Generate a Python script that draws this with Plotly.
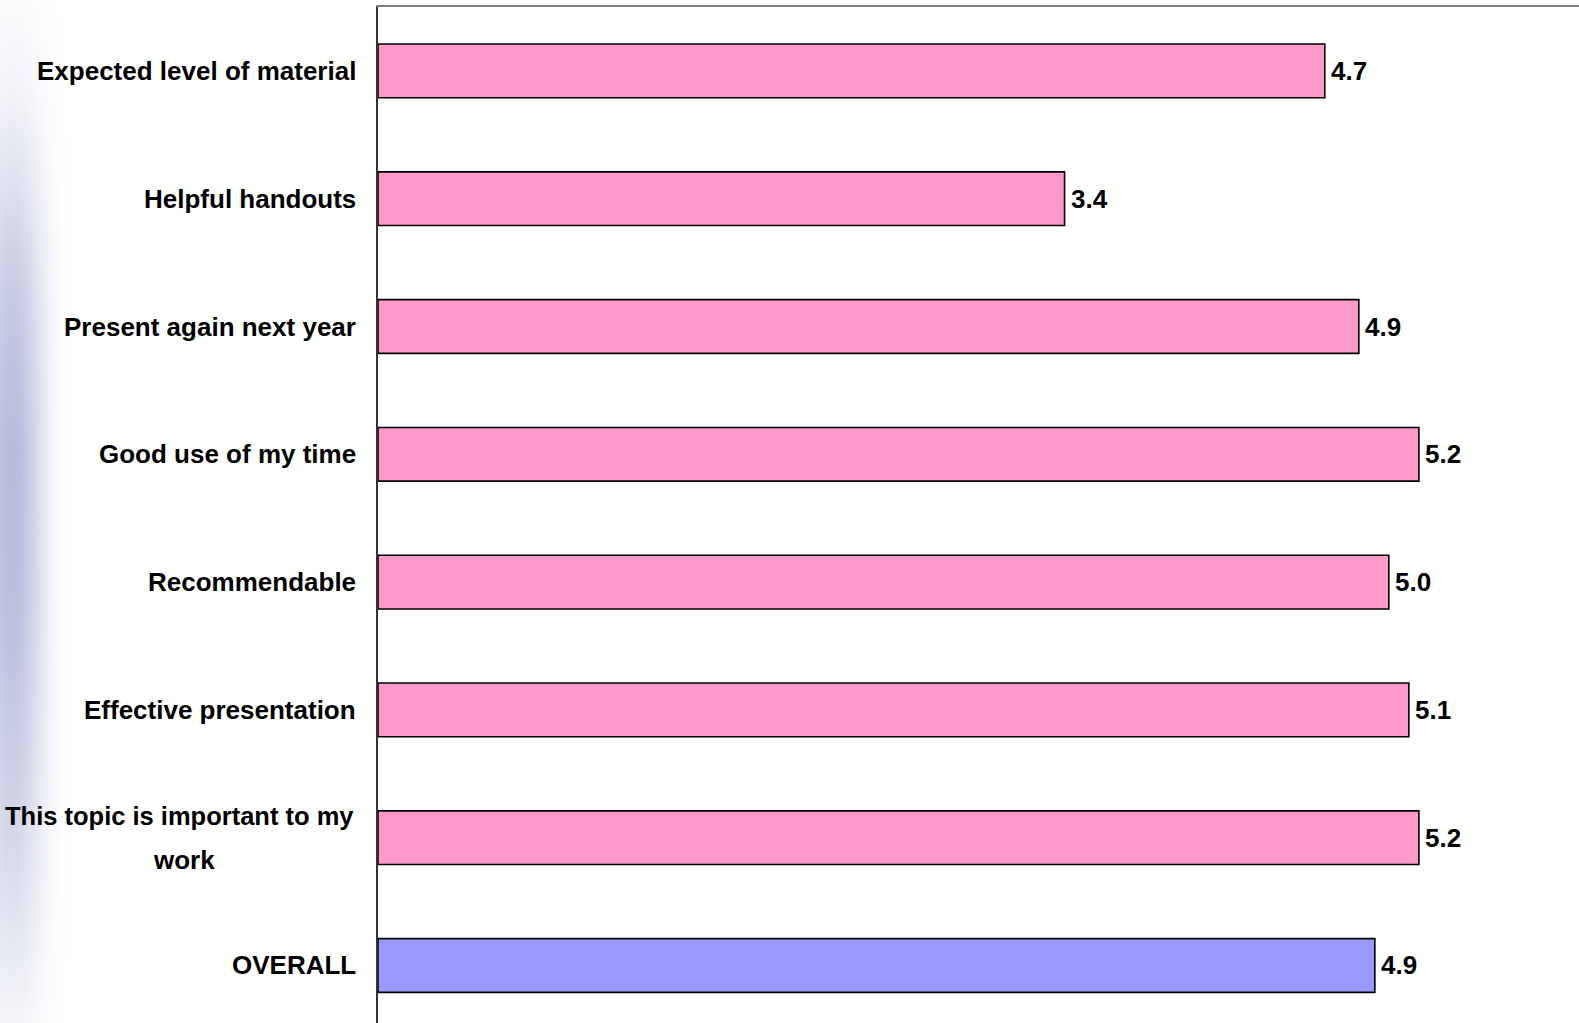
import plotly.graph_objects as go

categories = ["Expected level of material", "Helpful handouts", "Present again next year",
              "Good use of my time", "Recommendable", "Effective presentation",
              "This topic is important to my<br>work", "OVERALL"]
values = [4.73, 3.43, 4.90, 5.20, 5.05, 5.15, 5.20, 4.98]
value_labels = ["4.7", "3.4", "4.9", "5.2", "5.0", "5.1", "5.2", "4.9"]
bar_colors = ["#FF99CC"] * 7 + ["#9999FF"]

# decorative slide-background stripe (hand-estimated intensity profiles)
stripe_x = [0, 10, 20, 30, 40, 50, 60, 70]
stripe_x_int = [0.9, 1.0, 0.95, 0.72, 0.45, 0.2, 0.05, 0.0]
stripe_y = [0, 100, 200, 300, 450, 600, 750, 900, 1000, 1023]
stripe_y_int = [0.05, 0.2, 0.5, 0.8, 1.0, 0.95, 0.75, 0.45, 0.2, 0.15]

W, H = 1579, 1023
axis_px = 378
top_px = 7
FONT = "Liberation Sans, Arial, sans-serif"
LINE_GAP = 22

fig = go.Figure()

z = [[xi * yi for xi in stripe_x_int] for yi in stripe_y_int]
fig.add_trace(go.Heatmap(
    x=stripe_x, y=stripe_y, z=z, zmin=0, zmax=1, zsmooth="best",
    colorscale=[[0, "#FFFFFF"], [1, "#B6BBDB"]],
    showscale=False, hoverinfo="skip", xaxis="x2", yaxis="y2"))

fig.add_trace(go.Bar(
    y=categories, x=values, orientation="h",
    marker=dict(color=bar_colors, line=dict(color="black", width=1.6)),
    width=0.42, hoverinfo="skip", xaxis="x", yaxis="y"))

label_font = dict(family=FONT, size=26, color="black", weight="bold")
for cat, v, lab in zip(categories, values, value_labels):
    fig.add_annotation(x=v, y=cat, xref="x", yref="y", text=lab, showarrow=False,
                       xanchor="left", yanchor="middle", xshift=4, font=label_font)
    lines = cat.split("<br>")
    if len(lines) == 1:
        fig.add_annotation(x=0, y=cat, xref="x", yref="y", text=cat, showarrow=False,
                           xanchor="right", yanchor="middle", xshift=-20, font=label_font)
    else:
        fig.add_annotation(x=0, y=cat, xref="x", yref="y", text=lines[0], showarrow=False,
                           xanchor="right", yanchor="middle", xshift=-22,
                           yshift=LINE_GAP, font=dict(label_font, size=25.5))
        # second line centred under the first
        fig.add_annotation(x=0, y=cat, xref="x", yref="y", text=lines[1], showarrow=False,
                           xanchor="center", yanchor="middle", xshift=-194,
                           yshift=-LINE_GAP, font=label_font)

fig.update_layout(
    width=W, height=H,
    margin=dict(l=0, r=0, t=0, b=0),
    paper_bgcolor="white", plot_bgcolor="rgba(0,0,0,0)",
    showlegend=False,
    font=dict(family=FONT, size=26, color="black"),
    xaxis=dict(domain=[axis_px / W, 1], range=[0, 6], side="top",
               showline=True, linecolor="#808080", linewidth=2,
               showgrid=False, zeroline=False, showticklabels=False, ticks=""),
    yaxis=dict(domain=[0, 1 - top_px / H], range=[7.45, -0.5],
               showline=True, linecolor="#333333", linewidth=2,
               showgrid=False, zeroline=False, showticklabels=False, ticks=""),
    xaxis2=dict(domain=[0, 70 / W], range=[0, 70], visible=False, anchor="y2"),
    yaxis2=dict(domain=[0, 1], range=[1023, 0], visible=False, anchor="x2"),
)

fig.write_html("out.html", config={"displayModeBar": False},
               post_script="document.body.style.margin='0px';")
